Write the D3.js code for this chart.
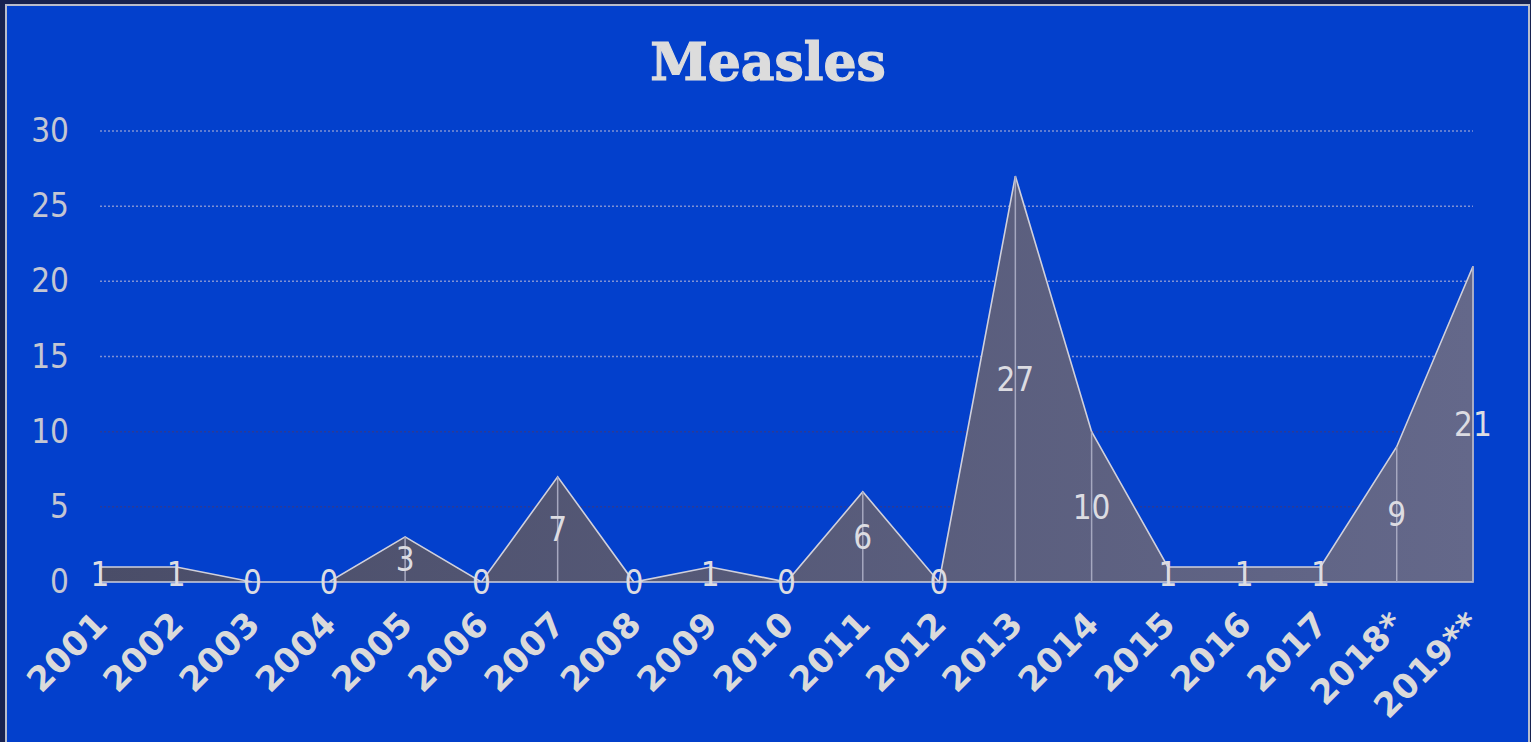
<!DOCTYPE html>
<html>
<head>
<meta charset="utf-8">
<script src="https://cdn.jsdelivr.net/npm/d3@7"></script>
<style>
  body { margin: 0; background: #172250; }
  svg { display: block; }
</style>
</head>
<body>
<div id="chart"></div>
<script>
// chart data
var years = ["2001", "2002", "2003", "2004", "2005", "2006", "2007", "2008", "2009", "2010",
  "2011", "2012", "2013", "2014", "2015", "2016", "2017", "2018*", "2019**"];
var cases = [1, 1, 0, 0, 3, 0, 7, 0, 1, 0, 6, 0, 27, 10, 1, 1, 1, 9, 21];
var yTicks = [0, 5, 10, 15, 20, 25, 30];
var title = "Measles";

var w = 1531;
var h = 742;

var svg = d3.select("#chart")
  .append("svg")
  .attr("width", w)
  .attr("height", h);

// frame
svg.append("rect")
  .attr("x", 0).attr("y", 0)
  .attr("width", w).attr("height", h)
  .attr("fill", "#172250");
svg.append("rect")
  .attr("x", 6).attr("y", 5)
  .attr("width", w - 8).attr("height", h)
  .attr("fill", "#0340cc")
  .attr("stroke", "#b8bccc")
  .attr("stroke-width", 2);

var x = d3.scalePoint()
  .domain(years)
  .range([100, 1473]);
var y = d3.scaleLinear()
  .domain([0, 30])
  .range([582, 131]);

var defs = svg.append("defs");
var grad = defs.append("linearGradient")
  .attr("id", "areaFill")
  .attr("gradientUnits", "userSpaceOnUse")
  .attr("x1", 100).attr("x2", 1473)
  .attr("y1", 0).attr("y2", 0);
grad.append("stop").attr("offset", "0%").attr("stop-color", "#4a4d68");
grad.append("stop").attr("offset", "100%").attr("stop-color", "#64688a");

// title
svg.append("text")
  .attr("x", 768)
  .attr("y", 80)
  .attr("text-anchor", "middle")
  .style("font-family", "'DejaVu Serif', serif")
  .style("font-weight", "bold")
  .style("font-size", "52px")
  .style("fill", "#dcdcdc")
  .style("stroke", "#dcdcdc")
  .style("stroke-width", 1.2)
  .text(title);

// gridlines
svg.append("g")
  .selectAll("line")
  .data(yTicks.filter(function (d) { return d > 0; }))
  .enter()
  .append("line")
  .attr("x1", 100)
  .attr("x2", 1473)
  .attr("y1", function (d) { return y(d); })
  .attr("y2", function (d) { return y(d); })
  .style("stroke", function (d) { return d >= 15 ? "#7f90d4" : "#2a3a98"; })
  .style("stroke-width", 1.5)
  .style("stroke-dasharray", "2,2");

// y axis labels
var yAxis = d3.axisLeft(y)
  .tickValues(yTicks)
  .tickSize(0)
  .tickPadding(0);
var yg = svg.append("g")
  .attr("transform", "translate(69,0)")
  .call(yAxis);
yg.select(".domain").remove();
yg.selectAll("text")
  .style("font-family", "'DejaVu Sans Condensed', 'DejaVu Sans', sans-serif")
  .style("font-stretch", "condensed")
  .style("font-size", "33px")
  .style("fill", "#c4c6d2");

// area
var area = d3.area()
  .x(function (d, i) { return x(years[i]); })
  .y0(y(0))
  .y1(function (d) { return y(d); });
svg.append("path")
  .datum(cases)
  .attr("d", area)
  .attr("fill", "url(#areaFill)")
  .attr("stroke", "#d0d0dc")
  .attr("stroke-width", 1.6);

// drop lines
svg.append("g")
  .selectAll("line")
  .data(cases)
  .enter()
  .append("line")
  .attr("x1", function (d, i) { return x(years[i]); })
  .attr("x2", function (d, i) { return x(years[i]); })
  .attr("y1", function (d) { return y(d); })
  .attr("y2", y(0))
  .style("stroke", "#a6a8c0")
  .style("stroke-width", 1.5);

// value labels
svg.append("g")
  .selectAll("text")
  .data(cases)
  .enter()
  .append("text")
  .attr("x", function (d, i) { return x(years[i]); })
  .attr("y", function (d) { return y(d / 2); })
  .attr("dy", "0.36em")
  .attr("text-anchor", "middle")
  .style("font-family", "'DejaVu Sans Condensed', 'DejaVu Sans', sans-serif")
  .style("font-stretch", "condensed")
  .style("font-size", "33px")
  .style("fill", "#dcdce2")
  .text(function (d) { return d; });

// x axis labels
var xAxis = d3.axisBottom(x)
  .tickSize(0)
  .tickPadding(0);
var xg = svg.append("g")
  .call(xAxis);
xg.select(".domain").remove();
xg.selectAll(".tick text")
  .attr("y", 0)
  .attr("dy", 0)
  .attr("text-anchor", "end")
  .attr("transform", "translate(9,626) rotate(-45)")
  .style("font-family", "'DejaVu Sans', sans-serif")
  .style("font-weight", "bold")
  .style("font-size", "34px")
  .style("letter-spacing", "0.5px")
  .style("fill", "#dadada");
</script>
</body>
</html>
